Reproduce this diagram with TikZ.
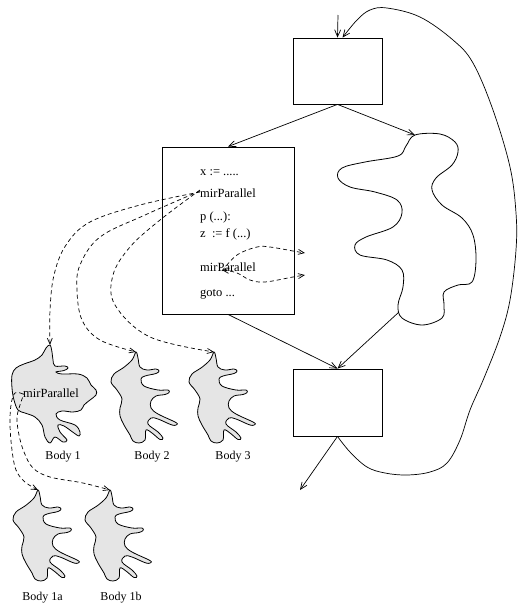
\documentclass[tikz,border=0pt]{standalone}
\usepackage{fontspec}
\setmainfont{Liberation Serif}
\usetikzlibrary{arrows.meta}
\tikzset{
  box/.style={draw, line width=0.8pt, inner sep=0pt},
  codetxt/.style={anchor=west, inner sep=0pt, font=\fontsize{12.5}{14}\selectfont},
  lbl/.style={inner sep=0pt, font=\fontsize{12}{14}\selectfont},
  arr/.style={line width=0.7pt, -{Straight Barb[length=7pt,width=6pt]}},
  darr/.style={line width=0.7pt, dash pattern=on 4pt off 3pt, -{Straight Barb[length=6pt,width=5pt]}},
  blobline/.style={line width=0.8pt},
  leaf/.style={line width=0.8pt, fill=gray!20},
}
% finger-shaped body outline, placed by its top tip
\newcommand\leafblob[1]{%
  \filldraw[leaf, shift={#1}] plot[smooth cycle, tension=0.6] coordinates {
    (0,0) (2,6) (4,15) (11,18) (20,17) (23,19) (20,21.5) (9,24) (5,27)
    (8,34) (22,38) (32,38) (33,40.5) (29,42.5) (20,44) (15,49) (15,56)
    (22,62) (39,70) (41,72.5) (36,73) (22,67) (15,66) (12,72) (22,80)
    (27,86) (24,87.5) (16,81) (10,78) (9,88) (3,91) (-3,89) (-6,83)
    (-12,73) (-16,64) (-16,56) (-14,47) (-19,38) (-25,30) (-22,22)
    (-13,16) (-4,8)};}
\begin{document}
\begin{tikzpicture}[x=1pt, y=-1pt]
\useasboundingbox (0,0) rectangle (519,614);

% flow boxes
\node[box, minimum width=89pt, minimum height=66pt] (top) at (337.5,71) {};
\node[box, minimum width=132pt, minimum height=167pt] (code) at (228,230.5) {};
\node[box, minimum width=89pt, minimum height=67pt] (bot) at (337.5,402.5) {};

% code lines
\node[codetxt] (l1) at (200,173) {x := .....};
\node[codetxt] (mp1) at (200,193) {mirParallel};
\node[codetxt] (l3) at (200,217) {p (...):};
\node[codetxt] (l4) at (200,234) {z \ := f (...)};
\node[codetxt] (mp3) at (200,267) {mirParallel};
\node[codetxt] (l6) at (200,294) {goto ...};

% irregular region on the right
\draw[blobline] plot[smooth cycle, tension=0.6] coordinates {
  (415,135) (440,134) (455,142) (458,152) (452,165) (436,178) (432,190)
  (442,205) (462,218) (473,235) (476,260) (472,282) (458,285) (444,292)
  (444,305) (442,318) (422,325) (402,318) (398,305) (403,287) (402,270)
  (387,260) (360,255) (355,245) (366,237) (393,227) (402,213) (397,200)
  (375,192) (350,187) (338,178) (342,168) (365,162) (398,156) (406,146)};
\coordinate (bigtop) at (415,135);
\coordinate (bigbot) at (399,312);

% bodies
\filldraw[leaf] plot[smooth cycle, tension=0.6] coordinates {
  (50,345) (52,352) (53,360) (55,366) (65,366) (68,368) (64,370.5) (56,372)
  (62,374) (78,374) (87,378) (91,385) (96,390) (96,395) (90,400) (84,405)
  (81,410) (73,412) (62,411) (56,414) (60,420) (75,425) (80,432) (79,436)
  (74,433) (64,426) (58,425) (60,432) (67,440) (63,442) (55,437) (50,443)
  (45,437) (42,425) (35,417) (25,413) (18,410) (14,400) (12,388) (12,375)
  (16,368) (24,364) (35,360) (42,355) (46,348)};
\coordinate (b1tip) at (50,345);
\leafblob{(136,352)}
\coordinate (b2tip) at (136,352);
\leafblob{(214,352)}
\coordinate (b3tip) at (214,352);
\leafblob{(38,490)}
\coordinate (b1atip) at (38,490);
\leafblob{(110,490)}
\coordinate (b1btip) at (110,490);

\node[codetxt] (mp2) at (23,393) {mirParallel};

\node[lbl] (lb1) at (63,457) {Body 1};
\node[lbl] (lb2) at (152,457) {Body 2};
\node[lbl] (lb3) at (233,457) {Body 3};
\node[lbl] (lb1a) at (42.5,598) {Body 1a};
\node[lbl] (lb1b) at (121,598) {Body 1b};

% control flow
\coordinate (entry) at (338,15);
\coordinate (exit) at (300,490);
\draw[arr] (entry) -- (top.north);
\draw[arr] (top.south) -- (code.north);
\draw[arr] (top.south) -- (bigtop);
\draw[arr] (code.south) -- (bot.north);
\draw[arr] (bigbot) -- (bot.north);
\draw[arr] (bot.south) -- (exit);
\draw[arr] plot[smooth, tension=0.6] coordinates {
  (bot.south) (350,452) (367,467) (385,473) (407,475) (430,472) (447,463)
  (460,440) (470,410) (484,378) (500,337) (510,300) (516,250) (516,213)
  (510,167) (493,110) (473,63) (453,40) (420,17) (387,8) (370,10) (357,20)
  ([xshift=5pt]top.north)};

% parallel calls
\draw[darr] plot[smooth, tension=0.6] coordinates {
  ([yshift=1pt]mp1.west) (140,205) (90,222) (66,245) (54,275) (50,310) (b1tip)};
\draw[darr] plot[smooth, tension=0.6] coordinates {
  ([yshift=2pt]mp1.west) (145,215) (100,237) (80,265) (77,290) (82,320) (100,340) (b2tip)};
\draw[darr] plot[smooth, tension=0.6] coordinates {
  ([yshift=3pt]mp1.west) (160,220) (130,247) (113,275) (115,305) (150,337) (b3tip)};

\draw[darr] plot[smooth, tension=0.6] coordinates {
  ([xshift=22pt,yshift=-4pt]mp3.west) (237,255) (257,247) (270,247) (293,251) (305,253)};
\draw[darr, {Straight Barb[length=6pt,width=5pt]}-{Straight Barb[length=6pt,width=5pt]}] plot[smooth, tension=0.6] coordinates {
  ([xshift=22pt,yshift=-3pt]mp3.west) (237,273) (250,280) (265,282) (293,277) (305,275)};

\draw[darr] plot[smooth, tension=0.6] coordinates {
  ([yshift=-1pt]mp2.west) (15,393) (11,405) (10,425) (12,450) (16,470) (25,482) (b1atip)};
\draw[darr] plot[smooth, tension=0.6] coordinates {
  ([xshift=2pt,yshift=2pt]mp2.west) (20,405) (17,418) (19,435) (24,452) (33,468) (50,477) (83,483) (b1btip)};
\end{tikzpicture}
\end{document}
